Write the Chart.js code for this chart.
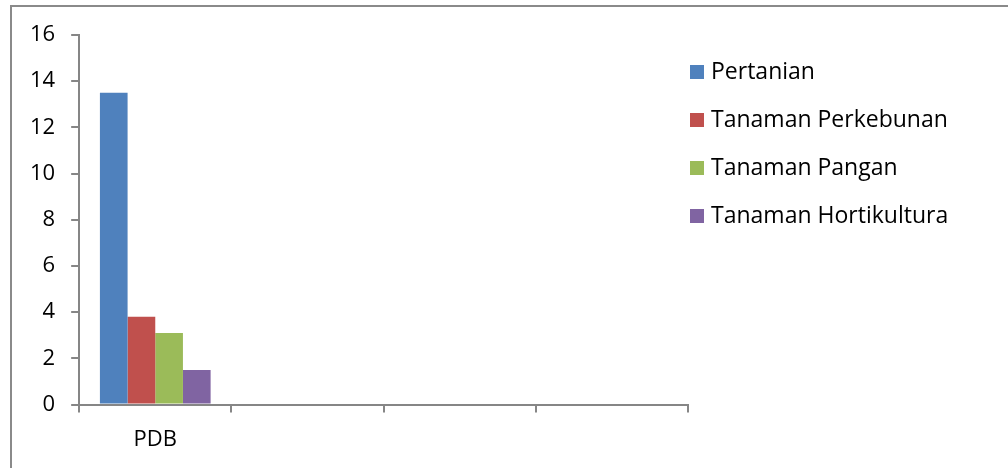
<!DOCTYPE html>
<html>
<head>
<meta charset="utf-8">
<script src="https://cdn.jsdelivr.net/npm/chart.js@4"></script>
<style>
  html, body { margin: 0; padding: 0; background: #fff; }
  #wrap { position: relative; width: 1008px; height: 468px; }
</style>
</head>
<body>
<div id="wrap"><canvas id="c" width="1008" height="468"></canvas></div>
<script>
// Categories and series values
const categories = ['PDB', '', '', ''];
const seriesNames = ['Pertanian', 'Tanaman Perkebunan', 'Tanaman Pangan', 'Tanaman Hortikultura'];
const pertanian = [13.5, null, null, null];
const perkebunan = [3.8, null, null, null];
const pangan = [3.1, null, null, null];
const hortikultura = [1.5, null, null, null];
const seriesColors = ['#4F81BD', '#C0504D', '#9BBB59', '#8064A2'];
const yTicks = [0, 2, 4, 6, 8, 10, 12, 14, 16];

const axisColor = '#868686';
const fontFamily = '"Open Sans", Lato, sans-serif';
const fontSize = 22;
const legendFontSize = 23;

// Outer frame around the chart
const framePlugin = {
  id: 'frame',
  afterDraw(chart) {
    const ctx = chart.ctx;
    ctx.save();
    ctx.strokeStyle = '#8a8a8a';
    ctx.lineWidth = 2;
    ctx.beginPath();
    ctx.moveTo(1008, 6);
    ctx.lineTo(11, 6);
    ctx.lineTo(11, 468);
    ctx.stroke();
    ctx.restore();
  }
};

// Legend on the right: square swatch followed by the series name
const sideLegend = {
  id: 'sideLegend',
  afterDraw(chart) {
    const ctx = chart.ctx;
    const x0 = chart.chartArea.right + 2;
    const y0 = 72;
    const step = 48;
    ctx.save();
    ctx.font = legendFontSize + 'px ' + fontFamily;
    ctx.textBaseline = 'middle';
    ctx.textAlign = 'left';
    chart.data.datasets.forEach((ds, i) => {
      const cy = y0 + i * step;
      ctx.fillStyle = ds.backgroundColor;
      ctx.fillRect(x0, cy - 7, 14, 14);
      ctx.fillStyle = '#000';
      ctx.fillText(ds.label, x0 + 21, cy);
    });
    ctx.restore();
  }
};

const values = [pertanian, perkebunan, pangan, hortikultura];

new Chart(document.getElementById('c'), {
  type: 'bar',
  data: {
    labels: categories,
    datasets: seriesNames.map((name, i) => ({
      label: name,
      data: values[i],
      backgroundColor: seriesColors[i],
      borderWidth: 0,
      categoryPercentage: 4 / 5.5,
      barPercentage: 1
    }))
  },
  options: {
    responsive: false,
    animation: false,
    layout: { padding: { left: 14, top: 35, right: 320, bottom: 1 } },
    plugins: {
      tooltip: { enabled: false },
      legend: { display: false }
    },
    scales: {
      x: {
        offset: true,
        grid: {
          display: true,
          offset: true,
          drawOnChartArea: false,
          tickLength: 8,
          color: axisColor,
          lineWidth: 2
        },
        border: { color: axisColor, width: 2 },
        ticks: { color: '#000', padding: 14, font: { family: fontFamily, size: fontSize } }
      },
      y: {
        min: 0,
        max: 16,
        afterBuildTicks(axis) { axis.ticks = yTicks.map(v => ({ value: v })); },
        grid: {
          display: true,
          drawOnChartArea: false,
          tickLength: 8,
          color: axisColor,
          lineWidth: 2
        },
        border: { color: axisColor, width: 2 },
        ticks: { color: '#000', padding: 16, font: { family: fontFamily, size: fontSize } }
      }
    }
  },
  plugins: [framePlugin, sideLegend]
});
</script>
</body>
</html>
